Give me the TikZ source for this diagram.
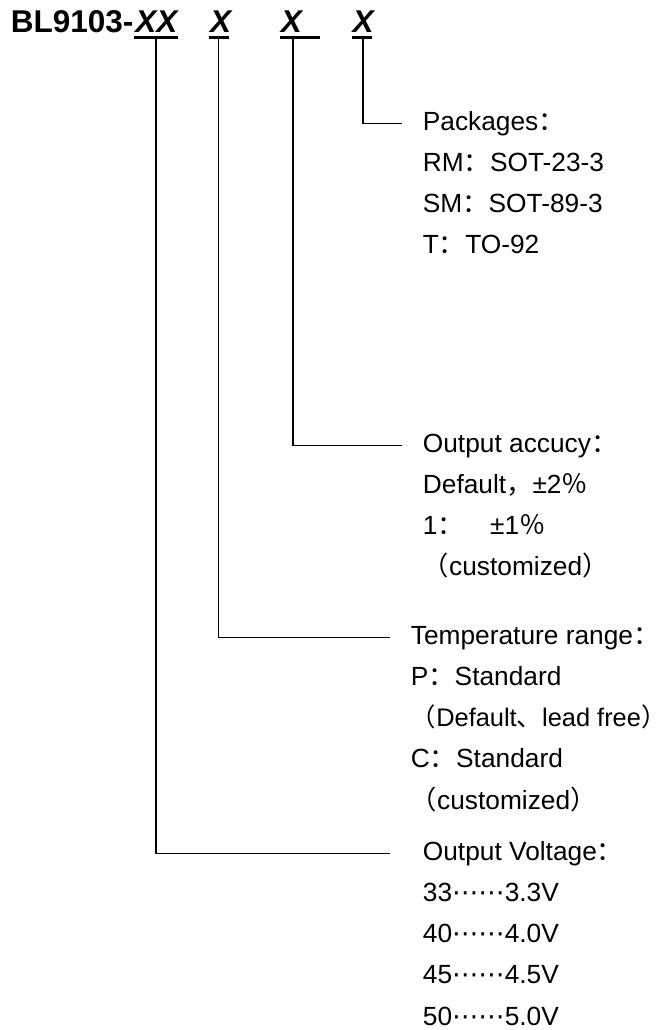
\documentclass[tikz,border=0pt]{standalone}
\usepackage{fontspec}
\setmainfont{Liberation Sans}
\newfontfamily\cjk{Noto Sans CJK SC}
\newfontfamily\symf{DejaVu Sans}
\usetikzlibrary{positioning}

\newcommand{\fw}[1]{{\cjk #1}}
\newcommand{\dotrow}{{\symf ⋯⋯}}

\begin{document}
\begin{tikzpicture}[x=1pt,y=-1pt,line width=1.8pt,node distance=41.2pt]
	\tikzset{
		partno/.style={inner sep=0pt,anchor=base west,font=\fontsize{31.5}{36}\selectfont\bfseries},
		code/.style={partno,font=\fontsize{31.5}{36}\selectfont\bfseries\itshape},
		uline/.style={line width=3pt},
		item/.style={inner sep=0pt,anchor=west,text height=19pt,text depth=5.5pt,
		             font=\fontsize{26.3}{31}\selectfont}
	}
	\useasboundingbox (0,0) rectangle (666,1030);

	% part number
	\node[partno]                           (pn) at (10,33) {BL9103-};
	\node[code]                             (vv) at (pn.base east) {XX};
	\node[right=31pt of vv.base east, code] (tt) {X};
	\node[right=48pt of tt.base east, code] (aa) {X};
	\node[right=49pt of aa.base east, code] (pk) {X};

	\draw[uline] ([yshift=-5pt]vv.base west) -- ([yshift=-5pt]vv.base east);
	\draw[uline] ([yshift=-5pt]tt.base west) -- ([xshift=-3pt,yshift=-5pt]tt.base east);
	\draw[uline] ([yshift=-5pt]aa.base west) -- ([xshift=17pt,yshift=-5pt]aa.base east);
	\draw[uline] ([yshift=-5pt]pk.base west) -- ([xshift=-3pt,yshift=-5pt]pk.base east);

	% packages
	\node[item] (pkg) at (422,123.5) {Packages\fw{：}};
	\node[below=of pkg.west, item]  (pkg1) {RM\fw{：}SOT-23-3};
	\node[below=of pkg1.west, item] (pkg2) {SM\fw{：}SOT-89-3};
	\node[below=of pkg2.west, item] (pkg3) {T\fw{：}TO-92};

	% output accuracy
	\node[item] (acc) at (422,445.5) {Output accucy\fw{：}};
	\node[below=of acc.west, item]  (acc1) {Default\fw{，}±2\fw{％}};
	\node[below=of acc1.west, item] (acc2) {1\fw{：}\hspace{1em}±1\fw{％}};
	\node[below=of acc2.west, item] (acc3) {\fw{（}customized\fw{）}};

	% temperature range
	\node[item] (tmp) at (410,637.5) {Temperature range\fw{：}};
	\node[below=of tmp.west, item]  (tmp1) {P\fw{：}Standard};
	\node[below=of tmp1.west, item, font=\fontsize{25.4}{30}\selectfont] (tmp2) {\fw{（}Default\fw{、}lead free\fw{）}};
	\node[below=of tmp2.west, item] (tmp3) {C\fw{：}Standard};
	\node[below=of tmp3.west, item] (tmp4) {\fw{（}customized\fw{）}};

	% output voltage
	\node[item] (vol) at (422,853.5) {Output Voltage\fw{：}};
	\node[below=of vol.west, item]  (vol1) {33\dotrow 3.3V};
	\node[below=of vol1.west, item] (vol2) {40\dotrow 4.0V};
	\node[below=of vol2.west, item] (vol3) {45\dotrow 4.5V};
	\node[below=of vol3.west, item] (vol4) {50\dotrow 5.0V};

	% leaders
	\draw[shorten >=20pt] ([yshift=-5pt]pk.south) |- (pkg.west);
	\draw[shorten >=20pt] ([xshift=2pt,yshift=-5pt]aa.south) |- (acc.west);
	\draw[shorten >=20pt] ([xshift=-2pt,yshift=-5pt]tt.south) |- (tmp.west);
	\draw[shorten >=32pt] ([yshift=-5pt]vv.south) |- (vol.west);
\end{tikzpicture}
\end{document}
